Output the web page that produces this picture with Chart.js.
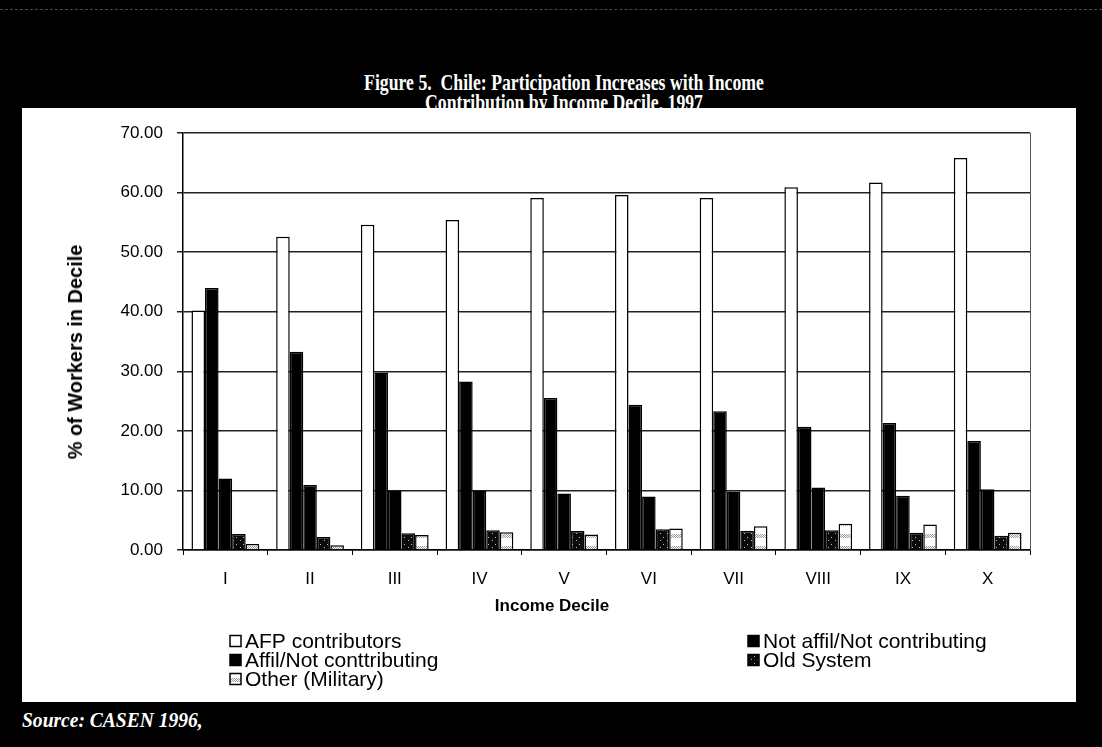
<!DOCTYPE html>
<html>
<head>
<meta charset="utf-8">
<script src="https://cdn.jsdelivr.net/npm/chart.js@4.4.1/dist/chart.umd.min.js"></script>
<style>
  html, body { margin: 0; padding: 0; background: #000; }
  #page { position: relative; width: 1102px; height: 747px; background: #000; overflow: hidden; }
  #topline { position: absolute; left: 0; top: 9px; width: 1102px; height: 0; border-top: 1px dashed #4a4a4a; }
  .title { position: absolute; left: 0; width: 1128px; text-align: center; color: #fff;
           font-family: "Liberation Serif", "Times New Roman", serif; font-weight: bold;
           font-size: 23px; line-height: 23px; transform: scaleX(0.77); transform-origin: 564px 0; }
  #panel { position: absolute; left: 22px; top: 108px; width: 1054px; height: 594px; background: #fff; }
  #chart { position: absolute; left: 0; top: 0; }
  #ytitle { position: absolute; left: 53px; top: 232px; width: 300px; height: 24px; line-height: 24px;
            margin-left: -150px; text-align: center; white-space: nowrap;
            font-family: "Liberation Sans", Arial, sans-serif; font-weight: bold; font-size: 21px; color: #000;
            transform: rotate(-90deg) scaleX(0.95); transform-origin: 150px 12px; }
  #xtitle { position: absolute; left: 0; top: 488px; width: 1060px; text-align: center;
            font-family: "Liberation Sans", Arial, sans-serif; font-weight: bold; font-size: 17px; color: #000; }
  #source { position: absolute; left: 22px; top: 708px; color: #fff;
            font-family: "Liberation Serif", "Times New Roman", serif; font-weight: bold; font-style: italic;
            font-size: 21px; transform: scaleX(0.93); transform-origin: 0 0; }
</style>
</head>
<body>
<div id="page">
  <div id="topline"></div>
  <div class="title" style="top:71px">Figure 5.&nbsp; Chile: Participation Increases with Income</div>
  <div class="title" style="top:91px">Contribution by Income Decile, 1997</div>
  <div id="panel">
    <canvas id="chart" width="1054" height="594"></canvas>
    <div id="ytitle">% of Workers in Decile</div>
    <div id="xtitle">Income Decile</div>
  </div>
  <div id="source">Source: CASEN 1996,</div>
</div>
<script>
// Income deciles (category axis)
const deciles = ['I', 'II', 'III', 'IV', 'V', 'VI', 'VII', 'VIII', 'IX', 'X'];

// Share of workers in each decile (%)
const afpContributors = [40.2, 52.6, 54.6, 55.4, 59.1, 59.6, 59.1, 60.9, 61.7, 65.8];
const notAffilNotContributing = [44.0, 33.3, 29.8, 28.3, 25.5, 24.4, 23.3, 20.7, 21.3, 18.3];
const affilNotContributing = [12.0, 10.9, 10.0, 10.0, 9.5, 9.0, 9.8, 10.5, 9.1, 10.2];
const oldSystem = [2.7, 2.2, 2.8, 3.3, 3.2, 3.5, 3.2, 3.3, 2.9, 2.4];
const otherMilitary = [1.0, 0.8, 2.5, 3.0, 2.6, 3.6, 4.0, 4.4, 4.3, 2.9];

// Series labels, in legend order
const seriesLabels = ['AFP contributors', 'Not affil/Not contributing', 'Affil/Not conttributing', 'Old System', 'Other (Military)'];

// Value axis ticks
const yTicks = [0, 10, 20, 30, 40, 50, 60, 70];

function makePattern(w, h, paint) {
  const c = document.createElement('canvas');
  c.width = w; c.height = h;
  const g = c.getContext('2d');
  paint(g);
  return document.getElementById('chart').getContext('2d').createPattern(c, 'repeat');
}

// dark fill with sparse light speckles
const oldSystemFill = makePattern(7, 7, g => {
  g.fillStyle = '#0a0a0a'; g.fillRect(0, 0, 7, 7);
  g.fillStyle = '#bdbdbd';
  g.fillRect(1, 5, 1, 1); g.fillRect(4, 2, 1, 1);
});

// white fill crossed by a dotted grey band
const otherFill = makePattern(4, 12, g => {
  g.fillStyle = '#fff'; g.fillRect(0, 0, 4, 12);
  g.fillStyle = '#9a9a9a';
  g.fillRect(0, 6, 1, 1); g.fillRect(2, 6, 1, 1);
  g.fillRect(1, 7, 1, 1); g.fillRect(3, 7, 1, 1);
  g.fillRect(0, 8, 1, 1); g.fillRect(2, 8, 1, 1);
  g.fillRect(1, 9, 1, 1); g.fillRect(3, 9, 1, 1);
});

const seriesValues = [afpContributors, notAffilNotContributing, affilNotContributing, oldSystem, otherMilitary];
const seriesFills = ['#ffffff', '#000000', '#000000', oldSystemFill, otherFill];

const datasets = seriesValues.map((vals, i) => ({
  label: seriesLabels[i],
  data: vals,
  backgroundColor: seriesFills[i],
  borderColor: '#000',
  borderWidth: 1.5,
  borderSkipped: 'bottom',
  categoryPercentage: 0.8,
  barPercentage: 1.0
}));

// plot-area frame on the right side
const frame = {
  id: 'frame',
  beforeDatasetsDraw(chart) {
    const { ctx, chartArea: a } = chart;
    ctx.save();
    ctx.strokeStyle = '#555';
    ctx.lineWidth = 1;
    ctx.beginPath();
    ctx.moveTo(a.right + 0.5, a.top);
    ctx.lineTo(a.right + 0.5, a.bottom);
    ctx.stroke();
    ctx.restore();
  }
};

// two-column legend under the axis title
const gridLegend = {
  id: 'gridLegend',
  afterDraw(chart) {
    const { ctx } = chart;
    const cols = [208, 726];
    const rows = [533, 552, 571];
    ctx.save();
    ctx.font = '21px "Liberation Sans", Arial, sans-serif';
    ctx.textBaseline = 'middle';
    chart.data.datasets.forEach((ds, i) => {
      const x = cols[i % 2];
      const y = rows[Math.floor(i / 2)];
      ctx.fillStyle = ds.backgroundColor;
      ctx.fillRect(x, y - 5.5, 11, 11);
      ctx.strokeStyle = '#000';
      ctx.lineWidth = 1.5;
      ctx.strokeRect(x, y - 5.5, 11, 11);
      ctx.fillStyle = '#000';
      ctx.fillText(ds.label, x + 15, y + 1);
    });
    ctx.restore();
  }
};

new Chart(document.getElementById('chart'), {
  type: 'bar',
  data: { labels: deciles, datasets },
  options: {
    responsive: false,
    animation: false,
    layout: { padding: { left: 0, right: 46, top: 25, bottom: 0 } },
    plugins: { legend: { display: false }, tooltip: { enabled: false } },
    scales: {
      x: {
        grid: { drawOnChartArea: false, drawTicks: true, tickLength: 5, color: '#000', lineWidth: 1 },
        border: { color: '#000', width: 1.5 },
        ticks: { color: '#000', padding: 14, font: { family: '"Liberation Sans", Arial, sans-serif', size: 17 } },
        afterFit(s) { s.height = 152; }
      },
      y: {
        min: 0, max: 70,
        afterBuildTicks(s) { s.ticks = yTicks.map(v => ({ value: v })); },
        grid: { color: '#222', lineWidth: 1.5, tickLength: 6 },
        border: { color: '#000', width: 1.5 },
        ticks: {
          color: '#000', padding: 14,
          font: { family: '"Liberation Sans", Arial, sans-serif', size: 17 },
          callback: v => Number(v).toFixed(2)
        },
        afterFit(s) { s.width = 161; }
      }
    }
  },
  plugins: [frame, gridLegend]
});
</script>
</body>
</html>
